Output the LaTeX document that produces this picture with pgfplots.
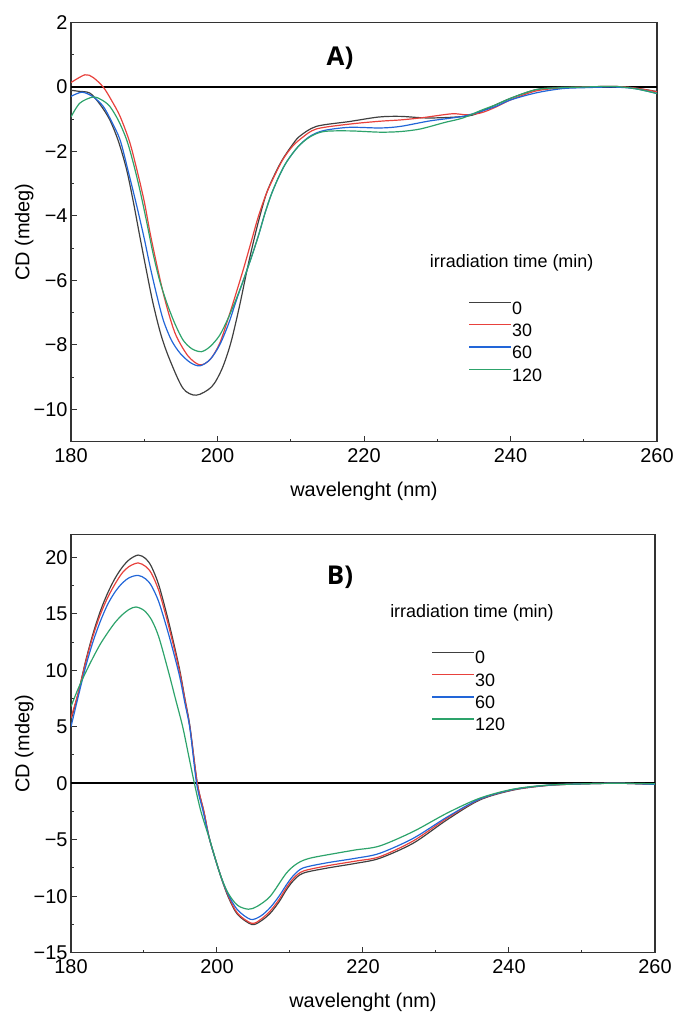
\documentclass[border=0pt]{standalone}
\usepackage{fontspec}
\setmainfont{Liberation Sans}
\newfontfamily\panelfont{Open Sans}
\usepackage{pgfplots}
\pgfplotsset{compat=1.18}

\definecolor{c0}{HTML}{404040}
\definecolor{c30}{HTML}{E8413C}
\definecolor{c60}{HTML}{2266D8}
\definecolor{c120}{HTML}{2DA36B}

\pgfplotsset{
  cd/.style={
    scale only axis, width=586bp, height=419bp,
    xmin=180, xmax=260, xtick={180,200,...,260}, minor x tick num=1, minor y tick num=1,
    tick pos=left, tick align=inside,
    major tick length=6bp, minor tick length=3bp,
    axis line style={line width=1.1bp, black!80},
    every tick/.style={black!80, line width=1bp},
    tick label style={font=\fontsize{20}{24}\selectfont},
    xticklabel style={yshift=-3bp},
    label style={font=\fontsize{20}{24}\selectfont},
    /pgf/number format/assume math mode=true,
    xlabel={wavelenght (nm)}, ylabel={CD (mdeg)},
    xlabel style={at={(axis description cs:0.5,-0.132)}, anchor=base},
    ylabel style={at={(axis description cs:-0.080,0.5)}, anchor=center},
    legend cell align=left,
    legend image code/.code={
      \path[draw=none, fill=none] (0bp,0bp) rectangle (42bp,2bp);
      \draw[#1, line width=1.4bp, overlay] (0bp,6.2bp) -- (42bp,6.2bp);},
    every axis plot/.append style={line width=1.2bp, smooth},
  },
  lgd/.style={legend style={at={#1}, anchor=north west, draw=none, fill=none,
    inner sep=0pt, row sep=6.3bp, column sep=0pt,
    nodes={inner sep=1bp}, font=\fontsize{18}{21}\selectfont}},
}

\begin{document}
\begin{tikzpicture}
\useasboundingbox (0,0) rectangle (676bp,1014bp);

% ---- A) ----
\begin{axis}[cd, at={(71bp,572.4bp)}, anchor=south west,
  ymin=-11, ymax=2, ytick={-10,-8,...,2},
  yticklabels={−10,−8,−6,−4,−2,0,2},
  lgd={(axis description cs:0.679,0.337)}]
\addplot[black, line width=1.6bp, forget plot, sharp plot] coordinates {(180,0) (260,0)};
\addplot[c0] coordinates {
(180,-0.10) (181,-0.13) (182.6,-0.19) (184,-0.55) (185.3,-1.02) (186.5,-1.7)
(187.6,-2.57) (188.5,-3.55) (189.4,-4.64) (190.3,-5.7) (191.2,-6.71) (192.3,-7.7)
(193.5,-8.47) (195.3,-9.35) (197.1,-9.56) (199.2,-9.3) (200.6,-8.75) (201.8,-7.95)
(203,-6.8) (204.2,-5.5) (205.5,-4.25) (206.7,-3.29) (208,-2.62) (209,-2.2)
(210.2,-1.8) (211.2,-1.53) (213.5,-1.22) (218,-1.07) (222,-0.93) (225,-0.91)
(229,-0.96) (234.4,-0.89) (237,-0.65) (240,-0.35) (243.5,-0.08) (247,0.0)
(250,0.0) (254,0.02) (257,-0.03) (260,-0.14)};
\addplot[c30] coordinates {
(180,0.14) (181.9,0.38) (183,0.3) (184.4,0.0) (185.5,-0.4) (186.7,-0.91)
(188,-1.7) (189,-2.57) (190,-3.55) (190.8,-4.53) (191.7,-5.5) (192.6,-6.4)
(193.5,-7.15) (194.4,-7.74) (196,-8.35) (197.6,-8.62) (199,-8.45) (200.3,-7.95)
(201.5,-7.15) (202.6,-6.35) (203.6,-5.6) (204.6,-4.8) (205.6,-4.0) (206.7,-3.29)
(208,-2.65) (209,-2.22) (210.2,-1.85) (211.5,-1.58) (213.5,-1.3) (218,-1.15)
(222.2,-1.06) (225,-1.02) (228,-0.95) (232,-0.83) (234,-0.86) (236,-0.8)
(238,-0.62) (240,-0.4) (243.5,-0.12) (247,-0.03) (250,0.0) (254,0.02)
(257,-0.03) (260,-0.15)};
\addplot[c60] coordinates {
(180,-0.29) (181.5,-0.16) (183,-0.3) (184.4,-0.6) (185.5,-1.05) (186.7,-1.64)
(187.8,-2.6) (189,-3.71) (190,-4.7) (190.8,-5.57) (191.7,-6.45) (192.6,-7.23)
(193.7,-7.85) (194.9,-8.26) (196.3,-8.55) (197.6,-8.65) (199,-8.45) (200.3,-8.0)
(201.5,-7.35) (202.6,-6.6) (203.6,-5.95) (204.6,-5.3) (205.6,-4.6) (206.5,-3.9)
(207.4,-3.3) (208.5,-2.72) (209.5,-2.3) (211,-1.85) (212.6,-1.53) (214.5,-1.35)
(218,-1.25) (222.2,-1.27) (225,-1.22) (229,-1.05) (233.5,-0.91) (236,-0.75)
(238,-0.6) (240,-0.4) (243.5,-0.18) (247,-0.05) (250,-0.02) (254,0.0) (257,-0.05) (260,-0.2)};
\addplot[c120] coordinates {
(180,-0.93) (181.2,-0.5) (183,-0.31) (184.2,-0.4) (185.3,-0.6) (186.5,-1.05)
(187.6,-1.64) (188.5,-2.35) (189.4,-3.19) (190.3,-4.15) (191.2,-5.16) (192.1,-6.0)
(193.1,-6.71) (194.2,-7.35) (195.3,-7.85) (196.5,-8.12) (197.8,-8.21) (199,-8.05)
(200.3,-7.7) (201.5,-7.15) (202.6,-6.55) (203.6,-5.95) (204.6,-5.3) (205.6,-4.6)
(206.5,-3.9) (207.4,-3.3) (208.5,-2.72) (209.5,-2.3) (211,-1.85) (212.6,-1.55)
(214.5,-1.38) (218,-1.36) (222.2,-1.4) (225,-1.38) (227.7,-1.3) (231,-1.1)
(233.5,-0.96) (236,-0.72) (238,-0.55) (240,-0.35) (243.5,-0.08) (247,-0.02)
(250,0.0) (254,0.02) (257,-0.05) (260,-0.2)};
\legend{0,30,60,120}
\node[font=\fontsize{18}{21}\selectfont] at (rel axis cs:0.752,0.4265) {irradiation time (min)};
\node[font=\panelfont\bfseries\fontsize{26}{30}\selectfont, anchor=base] at (rel axis cs:0.459,0.8967) {A)};
\end{axis}

% ---- B) ----
\begin{axis}[cd, width=584bp, height=418bp, at={(71bp,61.3bp)}, anchor=south west,
  ymin=-15, ymax=22, ytick={-15,-10,...,20},
  yticklabels={−15,−10,−5,0,5,10,15,20},
  lgd={(axis description cs:0.618,0.7237)}]
\addplot[black, line width=1.6bp, forget plot, sharp plot] coordinates {(180,0) (260,0)};
\addplot[c0] coordinates {
(180,5.6) (181,8.0) (182,10.8) (183,13.2) (184,15.2) (185,16.8) (186,18.1)
(187,19.1) (188,19.8) (189.2,20.2) (190.2,19.9) (191,19.2) (192,17.6) (193.1,15.0)
(194,12.6) (194.9,10.0) (195.6,7.5) (196.3,5.0) (197.3,0) (198.2,-2.5) (199,-5.0)
(200.4,-8.0) (201.5,-10.0) (202.8,-11.6) (204.75,-12.5) (206,-12.2) (207.3,-11.5)
(208.5,-10.5) (209.5,-9.44) (210.5,-8.6) (211.8,-7.96) (215,-7.52) (219.1,-7.08)
(222.3,-6.64) (226.9,-5.3) (231.5,-3.24) (236,-1.48) (240.6,-0.6) (245.2,-0.2)
(249.7,-0.06) (255,0) (260,-0.1)};
\addplot[c30] coordinates {
(180,5.8) (181,8.0) (182,10.7) (183,13.0) (184,14.9) (185,16.4) (186,17.6)
(187,18.6) (188,19.2) (189.2,19.5) (190.2,19.2) (191,18.6) (192,17.1) (193.1,14.6)
(194,12.3) (194.9,9.8) (195.6,7.4) (196.3,4.9) (197.3,0) (198.2,-2.5) (199,-5.0)
(200.4,-8.0) (201.5,-9.9) (202.8,-11.5) (204.75,-12.4) (206,-12.05) (207.3,-11.3)
(208.5,-10.3) (209.5,-9.25) (210.5,-8.4) (211.8,-7.78) (215,-7.32) (219.1,-6.88)
(222.3,-6.5) (226.9,-5.1) (231.5,-3.1) (236,-1.42) (240.6,-0.57) (245.2,-0.19)
(249.7,-0.06) (255,0) (260,-0.1)};
\addplot[c60] coordinates {
(180,5.0) (181,7.7) (182,10.3) (183,12.5) (184,14.3) (185,15.8) (186,16.9)
(187,17.7) (188,18.2) (189.2,18.4) (190.2,18.1) (191,17.5) (192,16.1) (193.1,13.8)
(194,11.7) (194.9,9.4) (195.6,7.1) (196.3,4.8) (197.2,0) (198.1,-2.5) (199,-5.0)
(200.4,-8.0) (201.5,-9.8) (202.8,-11.2) (204.6,-12.05) (206,-11.75) (207.3,-11.0)
(208.5,-10.0) (209.5,-9.0) (210.5,-8.15) (211.8,-7.5) (215,-7.05) (219.1,-6.63)
(222.3,-6.2) (226.9,-4.87) (231.5,-3.0) (236,-1.4) (240.6,-0.55) (245.2,-0.18)
(249.7,-0.06) (255,0) (260,-0.1)};
\addplot[c120] coordinates {
(180,6.8) (181,8.4) (182,9.8) (183,11.1) (184,12.3) (185,13.3) (186,14.2)
(187,14.9) (188,15.4) (188.9,15.6) (190,15.3) (191,14.5) (192,13.0) (193.3,10.0)
(194.3,7.5) (195.3,5.0) (196.1,2.5) (196.9,0) (197.8,-2.5) (199,-5.0) (200.4,-8.0)
(201.5,-9.7) (202.8,-10.8) (204.3,-11.15) (205.5,-10.9) (207.3,-10.0) (209.5,-7.96)
(211,-7.1) (212.7,-6.64) (216.4,-6.19) (219,-5.9) (222.3,-5.55) (226.9,-4.27)
(231.5,-2.65) (236,-1.32) (240.6,-0.52) (245.2,-0.17) (249.7,-0.06) (255,0)
(260,-0.05)};
\legend{0,30,60,120}
\node[font=\fontsize{18}{21}\selectfont] at (rel axis cs:0.6866,0.8134) {irradiation time (min)};
\node[font=\panelfont\bfseries\fontsize{26}{30}\selectfont, anchor=base] at (rel axis cs:0.4606,0.8804) {B)};
\end{axis}
\end{tikzpicture}
\end{document}
